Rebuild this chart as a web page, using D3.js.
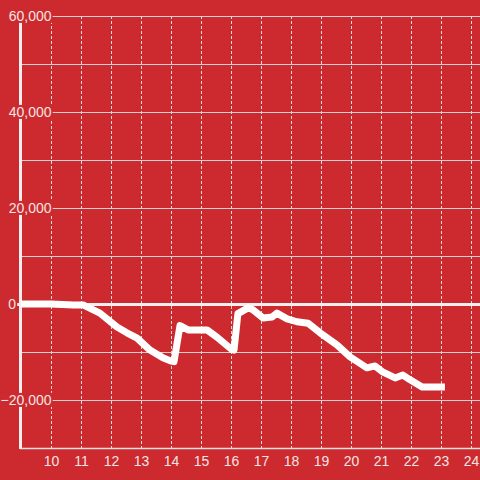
<!DOCTYPE html>
<html><head><meta charset="utf-8">
<script src="https://cdn.jsdelivr.net/npm/d3@7/dist/d3.min.js"></script>
<style>
html,body{margin:0;padding:0;background:#cc2a2f;}
svg{display:block;}
text{font-family:"Liberation Sans",Arial,sans-serif;font-size:14px;fill:#f4e4e4;}
</style></head>
<body><svg id="c" width="480" height="480"></svg>
<script>
const hours = [9,10,10.75,11.07,11.63,12.2,12.53,12.87,13.3,13.73,14.0,14.1,14.3,14.57,15.2,15.53,16.03,16.1,16.23,16.57,16.73,17.07,17.37,17.53,17.87,18.2,18.57,18.97,19.53,19.97,20.53,20.8,21.07,21.47,21.73,21.97,22.37,23.13];
const values = [0,0,-200,-200,-1900,-4800,-6000,-7100,-9600,-11200,-11900,-12000,-4500,-5400,-5400,-6900,-9500,-9600,-2000,-800,-1200,-2900,-2700,-1900,-3100,-3700,-4000,-6000,-8500,-11000,-13300,-12900,-14200,-15400,-14800,-15800,-17300,-17300];
const xTicks = [10,11,12,13,14,15,16,17,18,19,20,21,22,23,24];
const yGrid = [60000,50000,40000,30000,20000,10000,0,-10000,-20000,-30000];
const yLabels = [60000,40000,20000,0,-20000];

const svg = d3.select("#c");
const x = d3.scaleLinear().domain([9, 24.3]).range([21, 480]);
const y = d3.scaleLinear().domain([-30000, 60000]).range([448, 16]);

// vertical dashed gridlines
svg.append("g").selectAll("line").data(xTicks).join("line")
  .attr("x1", d => x(d)+0.5).attr("x2", d => x(d)+0.5)
  .attr("y1", y(60000)).attr("y2", y(-30000))
  .attr("stroke", "#e0dada").attr("stroke-width", 1).attr("stroke-dasharray", "3,2");

// horizontal gridlines
svg.append("g").selectAll("line").data(yGrid.filter(d => d !== 0 && d !== -30000)).join("line")
  .attr("x1", 21).attr("x2", 480)
  .attr("y1", d => Math.round(y(d))+0.5).attr("y2", d => Math.round(y(d))+0.5)
  .attr("stroke", "#d9d0d0").attr("stroke-width", 1);

// bottom axis
svg.append("line").attr("x1", 20).attr("x2", 480)
  .attr("y1", y(-30000)+0.5).attr("y2", y(-30000)+0.5)
  .attr("stroke", "#e8e0e0").attr("stroke-width", 1.5);

// y axis line
svg.append("line").attr("x1", 20.5).attr("x2", 20.5)
  .attr("y1", y(60000)).attr("y2", y(-30000)+1)
  .attr("stroke", "#f4eeee").attr("stroke-width", 3);

// zero line
svg.append("line").attr("x1", 17).attr("x2", 480)
  .attr("y1", y(0)+0.5).attr("y2", y(0)+0.5)
  .attr("stroke", "#f5eeee").attr("stroke-width", 3);

// y labels with background boxes
const fmt = d3.format(",");
const yl = svg.append("g").selectAll("g").data(yLabels).join("g");
yl.each(function(d){
  const g = d3.select(this);
  const t = g.append("text")
    .attr("x", d === 0 ? 16 : 51.5)
    .attr("y", y(d)).attr("dy", "0.35em")
    .attr("text-anchor", "end").text(fmt(d));
  const b = t.node().getBBox();
  g.insert("rect", "text").attr("x", b.x-1).attr("y", b.y+1)
    .attr("width", b.width+2).attr("height", b.height-2).attr("fill", "#cc2a2f");
});

// x tick labels
svg.append("g").selectAll("text").data(xTicks).join("text")
  .attr("x", d => x(d)+0.5).attr("y", 461).attr("dy", "0.35em")
  .attr("text-anchor", "middle").text(d => d);

// data line
const line = d3.line().x((d,i) => x(hours[i])).y(d => y(d));
svg.append("path").datum(values)
  .attr("d", line).attr("fill", "none")
  .attr("stroke", "#ffffff").attr("stroke-width", 7)
  .attr("stroke-linejoin", "round").attr("stroke-linecap", "butt");
</script></body></html>
